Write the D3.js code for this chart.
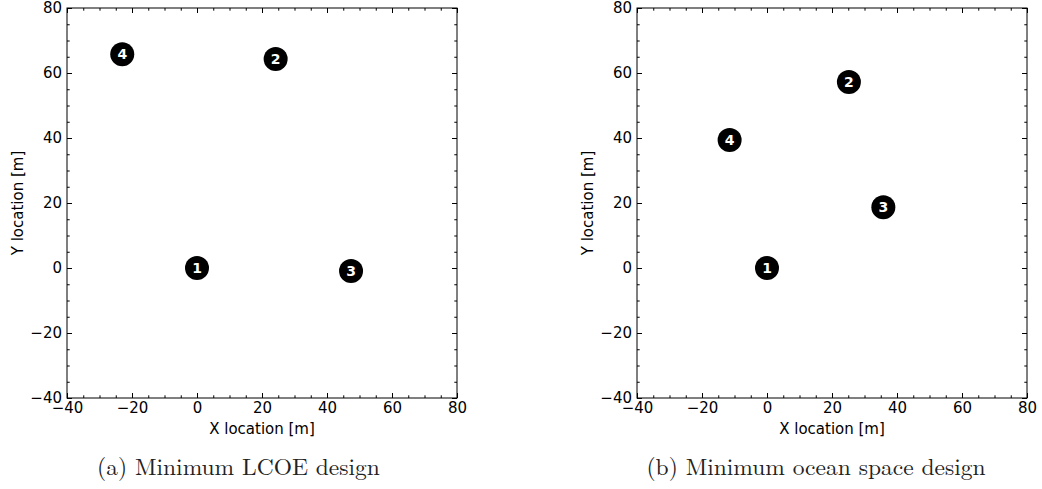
<!DOCTYPE html>
<html>
<head>
<meta charset="utf-8">
<script src="https://cdn.jsdelivr.net/npm/d3@7"></script>
<style>
  html, body { margin: 0; padding: 0; background: #fff; }
  svg { display: block; }
</style>
</head>
<body>
<svg id="chart" width="1042" height="489"></svg>
<script>
// ---- data ----
const deviceIds = [1, 2, 3, 4];
const lcoeX = [0, 24.2, 47.4, -23.0];
const lcoeY = [0, 64.3, -0.9, 65.8];
const oceanX = [0, 25.2, 35.8, -11.5];
const oceanY = [0, 57.2, 18.7, 39.4];
const xDomain = [-40, 80];
const yDomain = [-40, 80];
const majorTicks = [-40, -20, 0, 20, 40, 60, 80];
const minorTicks = [-35, -30, -25, -15, -10, -5, 5, 10, 15, 25, 30, 35, 45, 50, 55, 65, 70, 75];
const captions = ["(a) Minimum LCOE design", "(b) Minimum ocean space design"];
const xLabel = "X location [m]";
const yLabel = "Y location [m]";

const svg = d3.select("#chart");
const SIZE = 390;
const TOP = 8;
const tickFont = "'DejaVu Sans', sans-serif";
const fmt = d3.format("d");

function panel(x0, xs, ys, caption, capCenter) {
  const x = d3.scaleLinear().domain(xDomain).range([x0, x0 + SIZE]);
  const y = d3.scaleLinear().domain(yDomain).range([TOP + SIZE, TOP]);
  const g = svg.append("g");

  function styleAxis(sel) {
    sel.select(".domain").remove();
    sel.selectAll("line").attr("stroke", "#000").attr("stroke-width", 1);
    sel.selectAll("text").attr("fill", "#000")
      .style("font-family", tickFont).style("font-size", "15px");
  }

  // major ticks with labels
  g.append("g").attr("transform", `translate(0,${TOP + SIZE})`)
    .call(d3.axisBottom(x).tickValues(majorTicks).tickFormat(fmt).tickSizeInner(-5).tickSizeOuter(0).tickPadding(4))
    .call(styleAxis);
  g.append("g").attr("transform", `translate(${x0},0)`)
    .call(d3.axisLeft(y).tickValues(majorTicks).tickFormat(fmt).tickSizeInner(-5).tickSizeOuter(0).tickPadding(5))
    .call(styleAxis);
  g.append("g").attr("transform", `translate(0,${TOP})`)
    .call(d3.axisTop(x).tickValues(majorTicks).tickSizeInner(-5).tickSizeOuter(0).tickFormat(""))
    .call(styleAxis);
  g.append("g").attr("transform", `translate(${x0 + SIZE},0)`)
    .call(d3.axisRight(y).tickValues(majorTicks).tickSizeInner(-5).tickSizeOuter(0).tickFormat(""))
    .call(styleAxis);
  // minor ticks
  g.append("g").attr("transform", `translate(0,${TOP + SIZE})`)
    .call(d3.axisBottom(x).tickValues(minorTicks).tickSizeInner(-2.7).tickSizeOuter(0).tickFormat(""))
    .call(styleAxis);
  g.append("g").attr("transform", `translate(${x0},0)`)
    .call(d3.axisLeft(y).tickValues(minorTicks).tickSizeInner(-2.7).tickSizeOuter(0).tickFormat(""))
    .call(styleAxis);
  g.append("g").attr("transform", `translate(0,${TOP})`)
    .call(d3.axisTop(x).tickValues(minorTicks).tickSizeInner(-2.7).tickSizeOuter(0).tickFormat(""))
    .call(styleAxis);
  g.append("g").attr("transform", `translate(${x0 + SIZE},0)`)
    .call(d3.axisRight(y).tickValues(minorTicks).tickSizeInner(-2.7).tickSizeOuter(0).tickFormat(""))
    .call(styleAxis);

  // frame
  g.append("rect")
    .attr("x", x0).attr("y", TOP).attr("width", SIZE).attr("height", SIZE)
    .attr("fill", "none").attr("stroke", "#000").attr("stroke-width", 1);

  // markers
  const pts = deviceIds.map((id, i) => ({ id, x: xs[i], y: ys[i] }));
  const m = g.append("g").selectAll("g").data(pts).join("g")
    .attr("transform", d => `translate(${x(d.x)},${y(d.y)})`);
  m.append("circle").attr("r", 12).attr("fill", "#000");
  m.append("text").text(d => d.id)
    .attr("text-anchor", "middle").attr("dy", "0.36em")
    .attr("fill", "#fff").style("font-family", tickFont)
    .style("font-weight", "bold").style("font-size", "14px");

  // axis labels
  g.append("text").text(xLabel)
    .attr("x", x0 + SIZE / 2).attr("y", 434)
    .attr("text-anchor", "middle").attr("fill", "#000")
    .style("font-family", tickFont).style("font-size", "15px");
  g.append("text").text(yLabel)
    .attr("transform", `translate(${x0 - 44},${TOP + SIZE / 2}) rotate(-90)`)
    .attr("text-anchor", "middle").attr("fill", "#000")
    .style("font-family", tickFont).style("font-size", "15px");

  // caption
  g.append("text").text(caption)
    .attr("x", capCenter).attr("y", 475)
    .attr("text-anchor", "middle").attr("fill", "#222")
    .style("font-family", "'Latin Modern Roman', 'Liberation Serif', serif")
    .style("font-size", "23.5px");
}

panel(67, lcoeX, lcoeY, captions[0], 238.5);
panel(637, oceanX, oceanY, captions[1], 816);
</script>
</body>
</html>
